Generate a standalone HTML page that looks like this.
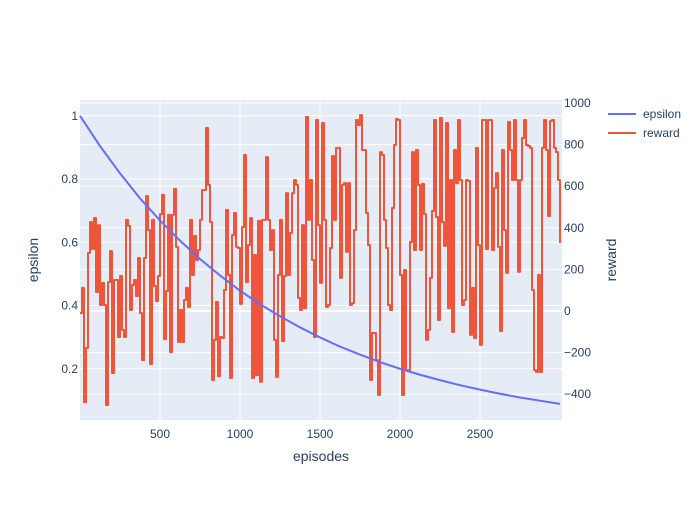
<!DOCTYPE html>
<html><head><meta charset="utf-8"><style>
body{margin:0;background:#fff;font-family:"Liberation Sans",sans-serif}
svg text{font-family:"Liberation Sans",sans-serif;fill:#2a3f5f}
</style></head><body>
<svg id="chart" width="700" height="500">
<rect x="0" y="0" width="700" height="500" fill="#fff"/>
<rect x="80" y="100" width="482" height="320" fill="#e5ecf6"/>
<g id="grid"></g><g id="series"></g><g id="axes"></g>
<text x="321" y="461" font-size="14" text-anchor="middle">episodes</text>
<text transform="translate(38,260) rotate(-90)" font-size="14" text-anchor="middle">epsilon</text>
<text transform="translate(616,260) rotate(-90)" font-size="14" text-anchor="middle">reward</text>
<g>
<g><line x1="608" y1="114" x2="636" y2="114" stroke="#636efa" stroke-width="2"/><text x="643" y="118" font-size="12">epsilon</text></g>
<g><line x1="608" y1="133" x2="636" y2="133" stroke="#ef553b" stroke-width="2"/><text x="643" y="137" font-size="12">reward</text></g>
</g>
</svg>
<script>
const epsEpisodes=[0,125,250,375,500,625,750,875,1000,1125,1250,1375,1500,1625,1750,1875,2000,2125,2250,2375,2500,2625,2750,2875,3000];
const epsValues=[1,0.904,0.818,0.739,0.669,0.605,0.547,0.495,0.447,0.404,0.366,0.331,0.299,0.27,0.245,0.221,0.2,0.181,0.164,0.148,0.134,0.121,0.109,0.099,0.089];
const rewardStep=12.5;
const rewardValues=[-10,111,-438,-178,279,428,298,447,91,413,29,135,29,-452,139,288,-298,149,149,-125,168,-91,-125,438,409,5,125,149,72,255,-10,-236,255,553,389,-255,438,120,48,168,466,558,-135,96,462,-197,462,587,308,-149,5,-149,53,111,19,438,173,361,245,293,438,582,582,880,606,428,-332,-139,43,-313,-125,-130,101,486,173,-322,365,471,308,303,34,404,750,139,317,447,-322,269,-308,433,-341,438,438,740,438,293,389,-139,-317,173,438,-144,168,567,173,375,567,630,606,63,5,413,14,933,438,630,245,-125,918,413,135,904,438,19,29,303,745,438,784,784,159,606,615,284,615,29,38,389,918,894,942,774,774,471,317,-332,-106,-106,-236,-404,764,750,438,303,29,5,495,798,923,918,173,-404,197,-284,-284,332,764,293,774,606,293,611,466,-139,-91,159,481,918,452,-43,928,428,313,904,14,630,-101,774,615,918,630,29,53,630,625,-115,111,-130,784,317,-163,918,918,298,918,918,293,591,663,308,-96,774,389,183,909,774,630,918,630,188,630,832,918,798,793,784,101,-284,-293,173,-293,784,918,774,457,913,918,784,764,630,327];
const xTicks=[500,1000,1500,2000,2500];
const yLeftTicks=[0.2,0.4,0.6,0.8,1];
const yRightTicks=[-400,-200,0,200,400,600,800,1000];
const X=e=>80+e*0.16, YL=v=>432-v*316.25, YR=v=>311-v*0.208;
const NS='http://www.w3.org/2000/svg';
function mk(tag,attrs,parent){const el=document.createElementNS(NS,tag);for(const k in attrs)el.setAttribute(k,attrs[k]);document.getElementById(parent).appendChild(el);return el;}
xTicks.forEach(t=>{const l=mk('line',{x1:X(t),x2:X(t),y1:100,y2:420,stroke:'#fff','stroke-width':1},'grid');


const tx=mk('text',{x:X(t),y:438,'font-size':12,'text-anchor':'middle'},'axes');tx.textContent=t;

});
yLeftTicks.forEach(t=>{const l=mk('line',{x1:80,x2:562,y1:YL(t),y2:YL(t),stroke:'#fff','stroke-width':1},'grid');


const tx=mk('text',{x:78,y:YL(t)+4,'font-size':12,'text-anchor':'end'},'axes');tx.textContent=t;

});
yRightTicks.forEach(t=>{const l=mk('line',{x1:80,x2:562,y1:YR(t),y2:YR(t),stroke:'#fff','stroke-width':t===0?2:1},'grid');


const tx=mk('text',{x:564,y:YR(t)+4,'font-size':12,'text-anchor':'start'},'axes');tx.textContent=t<0?'\u2212'+(-t):t;

});
let d='';rewardValues.forEach((v,i)=>{const x=X(i*rewardStep),y=YR(v);if(i===0)d='M'+x+','+y;else d+=' H'+x+' V'+y;});
const rp=mk('path',{d:d,fill:'none',stroke:'#ef553b','stroke-width':2,'stroke-linejoin':'round'},'series');


const ep=mk('polyline',{points:epsEpisodes.map((e,i)=>X(e)+','+YL(epsValues[i])).join(' '),fill:'none',stroke:'#636efa','stroke-width':2},'series');


</script>
</body></html>
